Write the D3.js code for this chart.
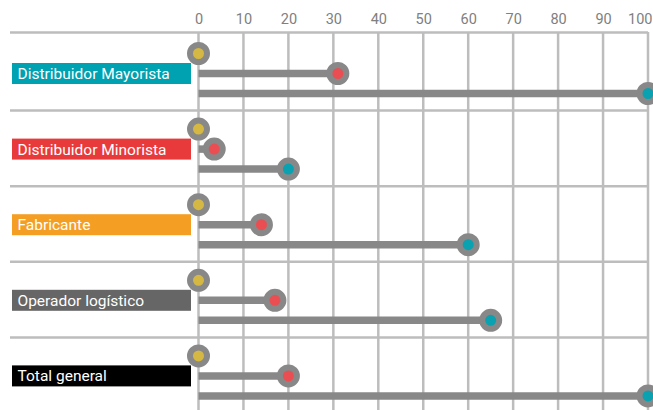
<!DOCTYPE html>
<html><head><meta charset="utf-8">
<script src="https://cdn.jsdelivr.net/npm/d3@7"></script>
<style>html,body{margin:0;padding:0;background:#fff;overflow:hidden}</style>
</head><body>
<svg id="c" width="653" height="410"></svg>
<script>
const categories = ["Distribuidor Mayorista","Distribuidor Minorista","Fabricante","Operador logístico","Total general"];
const labelColors = ["#00a1b1","#e93a3b","#f59e24","#666666","#000000"];
const serieA = [0,0,0,0,0];          // yellow
const serieB = [31,3.5,14,17,20];    // red
const serieC = [100,20,60,65,100];   // teal
const ticks = [0,10,20,30,40,50,60,70,80,90,100];
const dotColors = ["#d4b843","#ea4e52","#0aa1b1"];

const svg = d3.select("#c");
const x = d3.scaleLinear().domain([0,100]).range([198.5,648]);
const y = d3.scaleBand().domain(categories).range([35,413]).padding(0);
const sub = d3.scalePoint().domain([0,1,2]).range([18.5,58.5]);
const grid = "#bdbdbd";

// vertical gridlines
svg.append("g").selectAll("line").data(ticks).join("line")
  .attr("x1",d=>x(d)).attr("x2",d=>x(d)).attr("y1",32).attr("y2",410)
  .attr("stroke",grid).attr("stroke-width",2.5);
// horizontal separators
const seps = categories.map(c=>y(c));
svg.append("g").selectAll("line").data(seps).join("line")
  .attr("x1",10).attr("x2",648).attr("y1",(d,i)=>i===0?32.5:d).attr("y2",(d,i)=>i===0?32.5:d)
  .attr("stroke",grid).attr("stroke-width",2.5);

// tick labels
const ax = svg.append("g").attr("transform","translate(0,32)")
  .call(d3.axisTop(x).tickValues(ticks).tickSize(0).tickPadding(8).tickFormat(d3.format("d")));
ax.select(".domain").remove();
ax.selectAll("text").attr("fill","#808080").style("font-family","Roboto, sans-serif").style("font-size","14.5px");
ax.selectAll(".tick").filter(d=>d===100).select("text").attr("text-anchor","end").attr("dx",4);

// labels
const lab = svg.append("g").selectAll("g").data(categories).join("g")
  .attr("transform",c=>`translate(0,${y(c)+sub(1)})`);
lab.append("rect").attr("x",12).attr("y",-10.5).attr("width",179).attr("height",21)
  .attr("fill",(d,i)=>labelColors[i]);
lab.append("text").attr("x",17.5).attr("y",5.5).text(d=>d)
  .attr("fill","#fff").style("font-family","Roboto, sans-serif").style("font-size","15.5px");

// lines and dots
const series = [serieA, serieB, serieC];
series.forEach((s,k)=>{
  const g = svg.append("g");
  g.selectAll("line").data(categories).join("line")
    .attr("x1",x(0)).attr("x2",(c,i)=>x(s[i]))
    .attr("y1",c=>y(c)+sub(k)).attr("y2",c=>y(c)+sub(k))
    .attr("stroke","#888").attr("stroke-width",s.some(v=>v>0)?7.5:0);
});
series.forEach((s,k)=>{
  svg.append("g").selectAll("circle").data(categories).join("circle")
    .attr("cx",(c,i)=>x(s[i])).attr("cy",c=>y(c)+sub(k)).attr("r",8.5)
    .attr("fill",dotColors[k]).attr("stroke","#888").attr("stroke-width",6);
});
</script>
</body></html>
